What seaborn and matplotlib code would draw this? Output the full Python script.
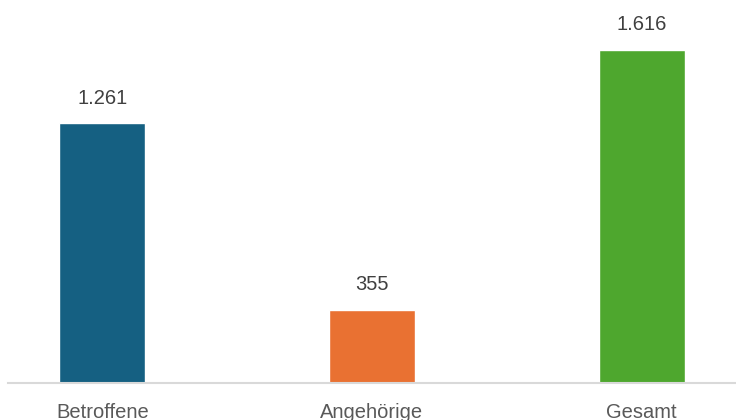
import pandas as pd
import numpy as np
import matplotlib.pyplot as plt
import seaborn as sns

kategorien = ['Betroffene', 'Angehörige', 'Gesamt']
werte = [1261, 355, 1616]
labels = ['1.261', '355', '1.616']
farben = ['#156082', '#E97132', '#4EA72E']

df = pd.DataFrame({'Kategorie': kategorien, 'Wert': werte})

sns.set_style('white')
plt.rcParams['font.family'] = ['Liberation Sans', 'DejaVu Sans']

fig = plt.figure(figsize=(7.36, 4.2), dpi=100)
ax = fig.add_axes([8 / 736, 37 / 420, 728 / 736, 383 / 420])

sns.barplot(data=df, x='Kategorie', y='Wert', hue='Kategorie', palette=farben,
            width=0.318, legend=False, ax=ax, saturation=1)

for i, (w, t) in enumerate(zip(werte, labels)):
    ax.annotate(t, (i, w), xytext=(0, 11), textcoords='offset points',
                ha='center', va='bottom', fontsize=14.5, color='#404040')

ax.set_xlim(-0.35, 2.35)
ax.set_ylim(0, 1856)
ax.set_xlabel('')
ax.set_ylabel('')
ax.set_yticks([])
ax.tick_params(axis='x', length=0, pad=14.5, labelsize=14.5, labelcolor='#595959')
for s in ['top', 'right', 'left']:
    ax.spines[s].set_visible(False)
ax.spines['bottom'].set_color('#d9d9d9')
ax.spines['bottom'].set_linewidth(1.5)

plt.savefig('out.png', dpi=100)
